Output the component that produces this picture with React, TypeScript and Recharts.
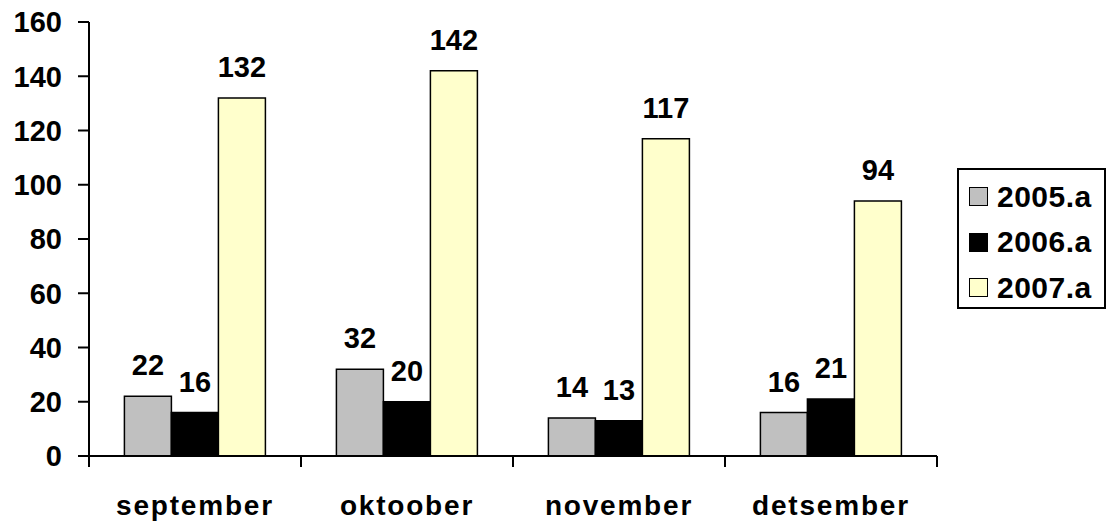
import React from 'react';
import { BarChart, Bar, XAxis, YAxis, Legend, LabelList } from 'recharts';

const months = ['september', 'oktoober', 'november', 'detsember'];
const y2005 = [22, 32, 14, 16];
const y2006 = [16, 20, 13, 21];
const y2007 = [132, 142, 117, 94];
const yTicks = [0, 20, 40, 60, 80, 100, 120, 140, 160];

const seriesNames = ['2005.a', '2006.a', '2007.a'];
const seriesColors = ['#C0C0C0', '#000000', '#FFFFCC'];

const data = months.map((m, i) => ({
  month: m,
  a2005: y2005[i],
  a2006: y2006[i],
  a2007: y2007[i],
}));

const FONT = '"Liberation Sans", Arial, sans-serif';
const X_TICK_MARGIN = 39;
const X_TICK_LEN = 11;

const LegendBox = () => (
  <div
    style={{
      boxSizing: 'border-box',
      width: 149,
      height: 141,
      border: '2px solid #000',
      background: '#fff',
      paddingTop: 4,
      fontFamily: FONT,
      fontWeight: 'bold',
      fontSize: 30,
      letterSpacing: 0.5,
    }}
  >
    {seriesNames.map((n, i) => (
      <div key={n} style={{ height: 45.5, display: 'flex', alignItems: 'center', paddingLeft: 10 }}>
        <span
          style={{
            display: 'inline-block',
            boxSizing: 'border-box',
            width: 19,
            height: 19,
            background: seriesColors[i],
            border: '1.5px solid #000',
            marginRight: 9,
          }}
        />
        <span style={{ color: '#000', lineHeight: 1 }}>{n}</span>
      </div>
    ))}
  </div>
);

const labelStyle = { fontFamily: FONT, fontWeight: 'bold', fontSize: 29, fill: '#000' } as const;

const CategoryTick = (props: any) => {
  const { x, y, payload, width, visibleTicksCount, index } = props;
  const band = width / visibleTicksCount;
  const axisY = y - X_TICK_MARGIN;
  const left = payload.coordinate - band / 2;
  const right = payload.coordinate + band / 2;
  return (
    <g>
      <line x1={left} x2={left} y1={axisY} y2={axisY + X_TICK_LEN} stroke="#000" strokeWidth={2} />
      {index === visibleTicksCount - 1 && (
        <line x1={right} x2={right} y1={axisY} y2={axisY + X_TICK_LEN} stroke="#000" strokeWidth={2} />
      )}
      <text
        x={x}
        y={y + 20}
        textAnchor="middle"
        fontFamily={FONT}
        fontWeight="bold"
        fontSize={28}
        letterSpacing={1.8}
        fill="#000"
      >
        {payload.value}
      </text>
    </g>
  );
};

export default function App() {
  return (
    <div style={{ position: 'absolute', left: 0, top: 0, width: 1109, height: 521, background: '#fff' }}>
      <BarChart
        width={1109}
        height={521}
        data={data}
        margin={{ top: 22, right: 172, bottom: 0, left: 0 }}
        barCategoryGap="16.7%"
        barGap={0}
      >
        <XAxis
          dataKey="month"
          height={65}
          axisLine={{ stroke: '#000', strokeWidth: 2 }}
          tickLine={false}
          tickSize={0}
          tickMargin={X_TICK_MARGIN}
          tick={<CategoryTick />}
          interval={0}
        />
        <YAxis
          width={89}
          domain={[0, 160]}
          ticks={yTicks}
          interval={0}
          axisLine={{ stroke: '#000', strokeWidth: 2 }}
          tickLine={{ stroke: '#000', strokeWidth: 2 }}
          tickSize={11}
          tickMargin={16}
          tick={labelStyle}
        />
        <Legend
          layout="vertical"
          align="center"
          verticalAlign="middle"
          content={() => <LegendBox />}
          wrapperStyle={{ left: 957, top: 168, width: 149, height: 141 }}
        />
        <Bar dataKey="a2005" name={seriesNames[0]} fill={seriesColors[0]} stroke="#000" strokeWidth={1.5} isAnimationActive={false}>
          <LabelList dataKey="a2005" position="top" offset={21} style={labelStyle} />
        </Bar>
        <Bar dataKey="a2006" name={seriesNames[1]} fill={seriesColors[1]} stroke="#000" strokeWidth={1.5} isAnimationActive={false}>
          <LabelList dataKey="a2006" position="top" offset={21} style={labelStyle} />
        </Bar>
        <Bar dataKey="a2007" name={seriesNames[2]} fill={seriesColors[2]} stroke="#000" strokeWidth={1.5} isAnimationActive={false}>
          <LabelList dataKey="a2007" position="top" offset={21} style={labelStyle} />
        </Bar>
      </BarChart>
    </div>
  );
}
